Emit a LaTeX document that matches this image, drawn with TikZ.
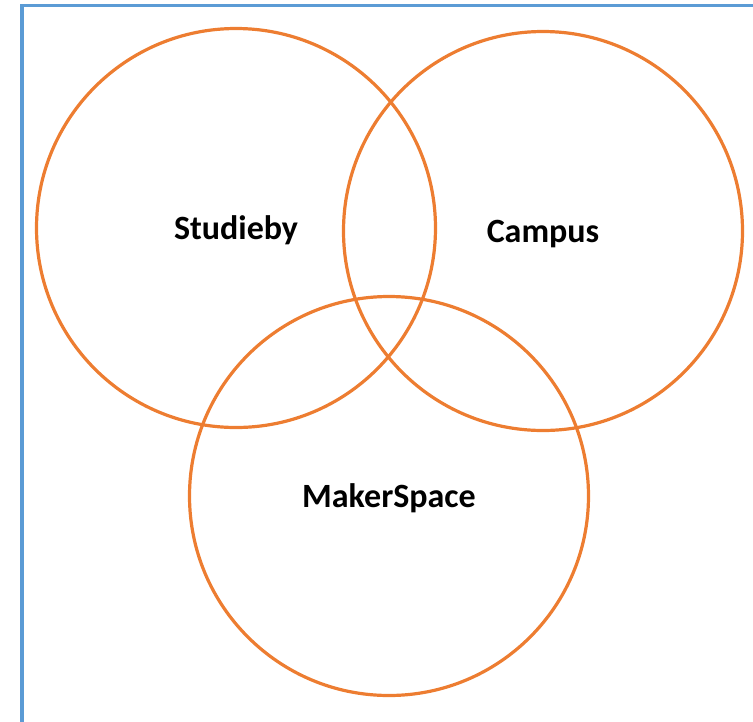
\documentclass[tikz,border=0pt]{standalone}
\usepackage{fontspec}
\setmainfont{Carlito}
\usepackage{tikz}
\usetikzlibrary{positioning}
\definecolor{vennorange}{RGB}{237,125,49}
\definecolor{frameblue}{RGB}{91,155,213}

\begin{document}
\begin{tikzpicture}[
    x=1pt,y=-1pt,
    set/.style={circle,draw=vennorange,line width=3.2pt,minimum size=399pt,inner sep=0pt,
      text height=30pt,text depth=8pt,font=\fontsize{34}{40}\selectfont\bfseries},
    frame/.style={draw=frameblue,line width=3.5pt}]
    \useasboundingbox (0,0) rectangle (753,721);
    \clip (0,0) rectangle (753,721);
    \draw[frame] (22,760) -- (22,5.5) -- (790,5.5);
    \node[set] (studieby) at (236,228) {Studieby};
    \node[set] (campus) at (543,231) {Campus};
    \node[set] (maker) at (389,496) {MakerSpace};
\end{tikzpicture}
\end{document}
